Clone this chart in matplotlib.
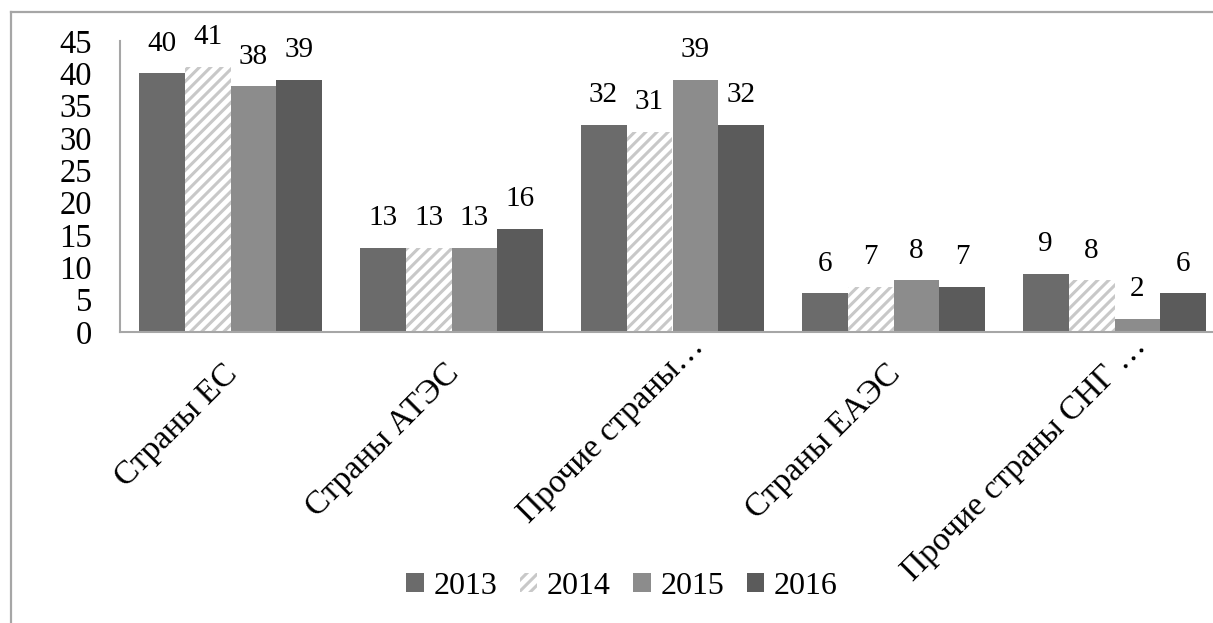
import matplotlib
matplotlib.use("Agg")
import matplotlib.pyplot as plt
import matplotlib.transforms as mtransforms
import numpy as np

categories = ["Страны ЕС", "Страны АТЭС", "Прочие страны…", "Страны ЕАЭС", "Прочие страны СНГ …"]
years = ["2013", "2014", "2015", "2016"]
v2013 = [40, 13, 32, 6, 9]
v2014 = [41, 13, 31, 7, 8]
v2015 = [38, 13, 39, 8, 2]
v2016 = [39, 16, 32, 7, 6]
series = [v2013, v2014, v2015, v2016]

plt.rcParams['font.family'] = ['Liberation Serif', 'DejaVu Serif']
plt.rcParams['hatch.linewidth'] = 2.2

fig = plt.figure(figsize=(12.13, 6.23), dpi=100)
# outer chart frame
fig.add_artist(plt.Line2D([11/1213, 11/1213], [0, 1 - 12/623], color='#a6a6a6', lw=1.6, transform=fig.transFigure))
fig.add_artist(plt.Line2D([11/1213, 1], [1 - 12/623, 1 - 12/623], color='#a6a6a6', lw=1.6, transform=fig.transFigure))

ax = fig.add_axes([120/1213, 1 - 332/623, 1105/1213, (332 - 41)/623])

x = np.arange(len(categories))
w = 0.208
styles = [
    dict(color='#6b6b6b'),
    dict(facecolor='white', edgecolor='#c8c8c8', hatch='///', linewidth=0),
    dict(color='#8c8c8c'),
    dict(color='#5b5b5b'),
]
handles = []
for i, (vals, st) in enumerate(zip(series, styles)):
    bars = ax.bar(x + (i - 1.5) * w, vals, w, label=years[i], **st)
    handles.append(bars)
    for b, v in zip(bars, vals):
        ax.annotate(str(v), (b.get_x() + b.get_width() / 2, v), xytext=(0, 12),
                    textcoords='offset points', ha='center', va='bottom', fontsize=21)

ax.set_ylim(0, 45)
ax.set_xlim(-0.5, len(categories) - 0.5)
ax.set_yticks(np.arange(0, 46, 5))
ax.tick_params(axis='y', length=0, labelsize=23.5, pad=20)
ax.tick_params(axis='x', length=0, labelsize=24, pad=19)
ax.set_xticks(x)
ax.set_xticklabels(categories, rotation=45, ha='right', rotation_mode='anchor')
for lab in ax.get_xticklabels():
    if lab.get_text().endswith("…"):
        dx, dy = 16, 27
    else:
        dx, dy = -8, 0
    lab.set_transform(lab.get_transform() +
                      mtransforms.ScaledTranslation(dx / 100, dy / 100, fig.dpi_scale_trans))
for s in ['top', 'right']:
    ax.spines[s].set_visible(False)
for s in ['left', 'bottom']:
    ax.spines[s].set_color('#a6a6a6')
    ax.spines[s].set_linewidth(1.5)

fig.legend(handles=handles, labels=years, loc='center', bbox_to_anchor=(622/1213, 1 - 586/623),
           ncol=4, frameon=False, fontsize=23, handlelength=0.55, handleheight=0.55,
           handletextpad=0.3, columnspacing=0.7)

fig.savefig("out.png", dpi=100)
